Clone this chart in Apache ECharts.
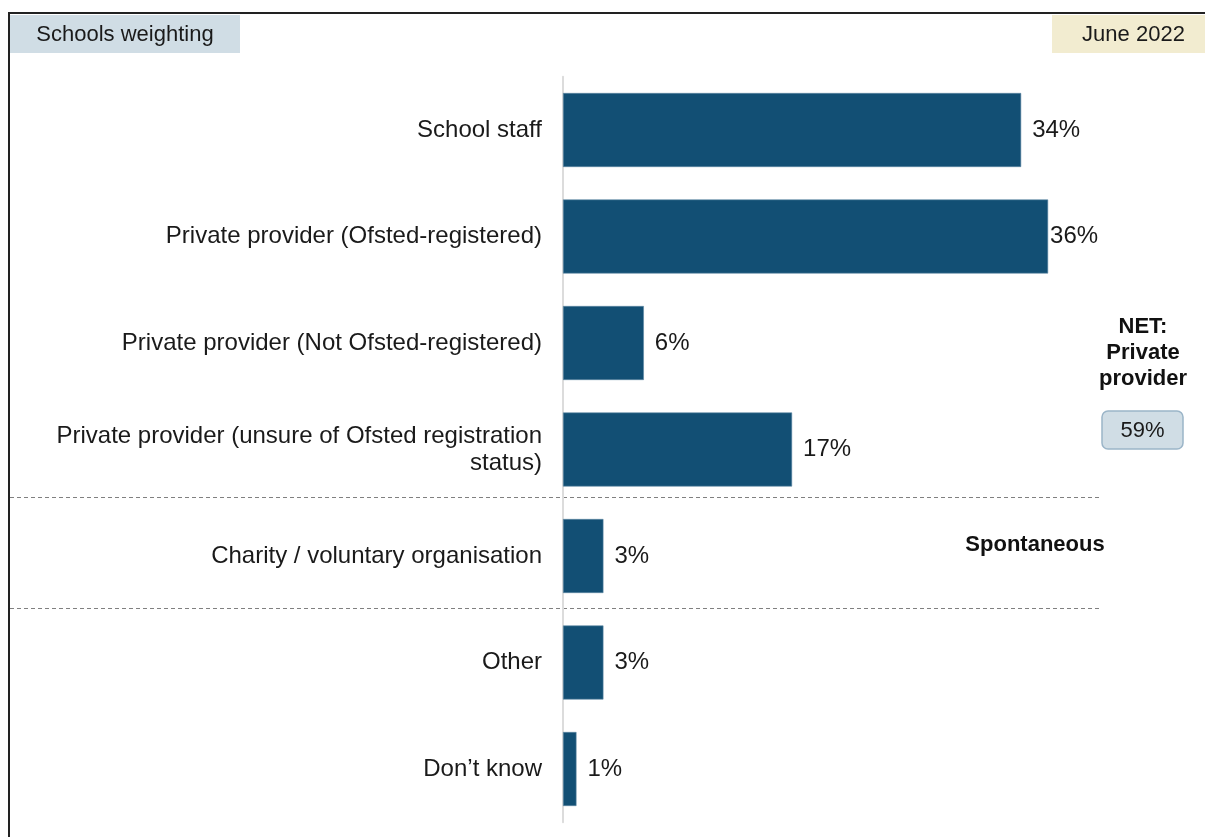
<!DOCTYPE html>
<html>
<head>
<meta charset="utf-8">
<script src="https://cdn.jsdelivr.net/npm/echarts@6/dist/echarts.min.js"></script>
<style>
  html, body { margin: 0; padding: 0; background: #ffffff; }
  #chart { width: 1205px; height: 837px; }
</style>
</head>
<body>
<div id="chart"></div>
<script>
// Who delivers the provision (share of responses, %)
const categories = [
  'School staff',
  'Private provider (Ofsted-registered)',
  'Private provider (Not Ofsted-registered)',
  'Private provider (unsure of Ofsted registration\nstatus)',
  'Charity / voluntary organisation',
  'Other',
  'Don\u2019t know'
];
const values = [34, 36, 6, 17, 3, 3, 1];
const netLabel = 'NET:\nPrivate\nprovider';
const netValue = 59;
const headerLeft = 'Schools weighting';
const headerRight = 'June 2022';
const groupNote = 'Spontaneous';

const FONT = 'Arial, "Liberation Sans", sans-serif';
const BAR = '#124f74';

// the widest bar keeps its label tucked in against the bar end
const barData = values.map(function (v) {
  return v === Math.max.apply(null, values)
    ? { value: v, label: { distance: 2 } }
    : v;
});

const chart = echarts.init(document.getElementById('chart'), null, { renderer: 'canvas' });

chart.setOption({
  animation: false,
  backgroundColor: '#ffffff',
  textStyle: { fontFamily: FONT },
  grid: { left: 563, top: 76.75, width: 539, height: 745.5, containLabel: false },
  xAxis: {
    type: 'value', min: 0, max: 40,
    show: false
  },
  yAxis: {
    type: 'category',
    data: categories,
    inverse: true,
    axisLine: { show: true, lineStyle: { color: '#dcdcdc', width: 2 } },
    axisTick: { show: false },
    splitLine: { show: false },
    axisLabel: {
      color: '#1a1a1a', fontSize: 24, fontFamily: FONT,
      margin: 21, align: 'right', lineHeight: 27
    }
  },
  series: [{
    type: 'bar',
    data: barData,
    barWidth: 74,
    itemStyle: { color: BAR, borderColor: '#5d86a3', borderWidth: 0.6 },
    label: {
      show: true, position: 'right', distance: 11,
      formatter: '{c}%', color: '#1a1a1a', fontSize: 24, fontFamily: FONT
    }
  }],
  graphic: [
    // frame
    { type: 'line', shape: { x1: 9, y1: 13, x2: 1205, y2: 13 }, style: { stroke: '#222', lineWidth: 2 } },
    { type: 'line', shape: { x1: 9, y1: 12, x2: 9, y2: 837 }, style: { stroke: '#222', lineWidth: 2 } },
    // header tags
    { type: 'rect', shape: { x: 10, y: 15, width: 230, height: 38 }, style: { fill: '#d0dde5' } },
    { type: 'text', x: 125, y: 35, style: { text: headerLeft, font: '22px ' + FONT, fill: '#1a1a1a', align: 'center', verticalAlign: 'middle' } },
    { type: 'rect', shape: { x: 1052, y: 15, width: 153, height: 38 }, style: { fill: '#f2ecd0' } },
    { type: 'text', x: 1133.5, y: 35, style: { text: headerRight, font: '22px ' + FONT, fill: '#1a1a1a', align: 'center', verticalAlign: 'middle' } },
    // group separators
    { type: 'line', shape: { x1: 10, y1: 497.5, x2: 1100, y2: 497.5 }, style: { stroke: '#808080', lineWidth: 1.2, lineDash: [4, 3] } },
    { type: 'line', shape: { x1: 10, y1: 608.5, x2: 1100, y2: 608.5 }, style: { stroke: '#808080', lineWidth: 1.2, lineDash: [4, 3] } },
    // NET box
    { type: 'text', x: 1143, y: 353, style: { text: netLabel, font: 'bold 22px ' + FONT, fill: '#111', align: 'center', verticalAlign: 'middle', lineHeight: 26 } },
    { type: 'rect', shape: { x: 1102, y: 411, width: 81, height: 38, r: 6 }, style: { fill: '#d0dde5', stroke: '#9bb5c8', lineWidth: 1.5 } },
    { type: 'text', x: 1142.5, y: 431, style: { text: netValue + '%', font: '22px ' + FONT, fill: '#1a1a1a', align: 'center', verticalAlign: 'middle' } },
    // spontaneous note
    { type: 'text', x: 1035, y: 545, style: { text: groupNote, font: 'bold 22px ' + FONT, fill: '#111', align: 'center', verticalAlign: 'middle' } }
  ]
});
</script>
</body>
</html>
